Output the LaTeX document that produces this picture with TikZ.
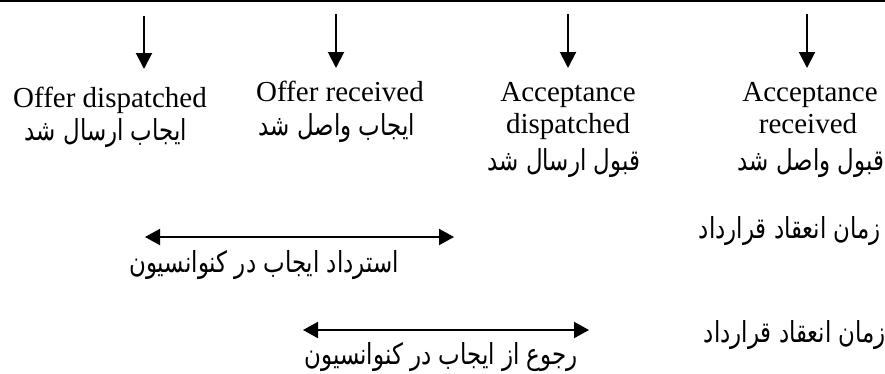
\documentclass[tikz,border=0pt]{standalone}
\usepackage{fontspec}
\setmainfont{Liberation Serif}
\newfontfamily\arabicfont[Script=Arabic,FakeStretch=0.79]{DejaVu Sans}
\TeXXeTstate=1
\usetikzlibrary{arrows.meta}
\tikzset{
  en/.style={font=\fontsize{29}{32}\selectfont, anchor=base, inner sep=0pt},
  fa/.style={font=\arabicfont\fontsize{29}{34}\selectfont, anchor=base, inner sep=0pt},
  down/.style={line width=2pt, -{Triangle[length=16pt,width=16pt]}},
  both/.style={line width=2pt, {Triangle[length=15pt,width=16pt]}-{Triangle[length=15pt,width=16pt]}}
}
\begin{document}
\begin{tikzpicture}[x=1pt,y=-1pt]
\useasboundingbox (0,0) rectangle (885,373);
\coordinate (tl) at (0,1);
\coordinate (tr) at (885,1);
\draw[line width=2pt] (tl) -- (tr);
% vertical arrows
\coordinate (a1s) at (144,16); \coordinate (a1e) at (144,69);
\coordinate (a2s) at (336,14); \coordinate (a2e) at (336,68);
\coordinate (a3s) at (568,14); \coordinate (a3e) at (568,68);
\coordinate (a4s) at (807,14); \coordinate (a4e) at (807,68);
\draw[down] (a1s) -- (a1e);
\draw[down] (a2s) -- (a2e);
\draw[down] (a3s) -- (a3e);
\draw[down] (a4s) -- (a4e);
% column texts
\node[en] (c1a) at (110,107) {Offer dispatched};
\node[fa] (c1b) at (106,140) {\beginR ایجاب ارسال شد\endR};
\node[en] (c2a) at (340,101) {Offer received};
\node[fa] (c2b) at (337,135) {\beginR ایجاب واصل شد\endR};
\node[en] (c3a) at (568,101) {Acceptance};
\node[en] (c3b) at (568,133) {dispatched};
\node[fa] (c3c) at (564,170) {\beginR قبول ارسال شد\endR};
\node[en] (c4a) at (810,101) {Acceptance};
\node[en] (c4b) at (808,133) {received};
\node[fa] (c4c) at (811,170) {\beginR قبول واصل شد\endR};
% time of contract
\node[fa] (z1) at (790,238) {\beginR زمان انعقاد قرارداد\endR};
\node[fa] (z2) at (795,342) {\beginR زمان انعقاد قرارداد\endR};
% double arrows
\coordinate (r1l) at (145,237); \coordinate (r1r) at (454,237);
\draw[both] (r1l) -- (r1r);
\node[fa] (t1) at (264,272) {\beginR استرداد ایجاب در کنوانسیون\endR};
\coordinate (r2l) at (303,330); \coordinate (r2r) at (589,330);
\draw[both] (r2l) -- (r2r);
\node[fa] (t2) at (441,364) {\beginR رجوع از ایجاب در کنوانسیون\endR};
\end{tikzpicture}
\end{document}
